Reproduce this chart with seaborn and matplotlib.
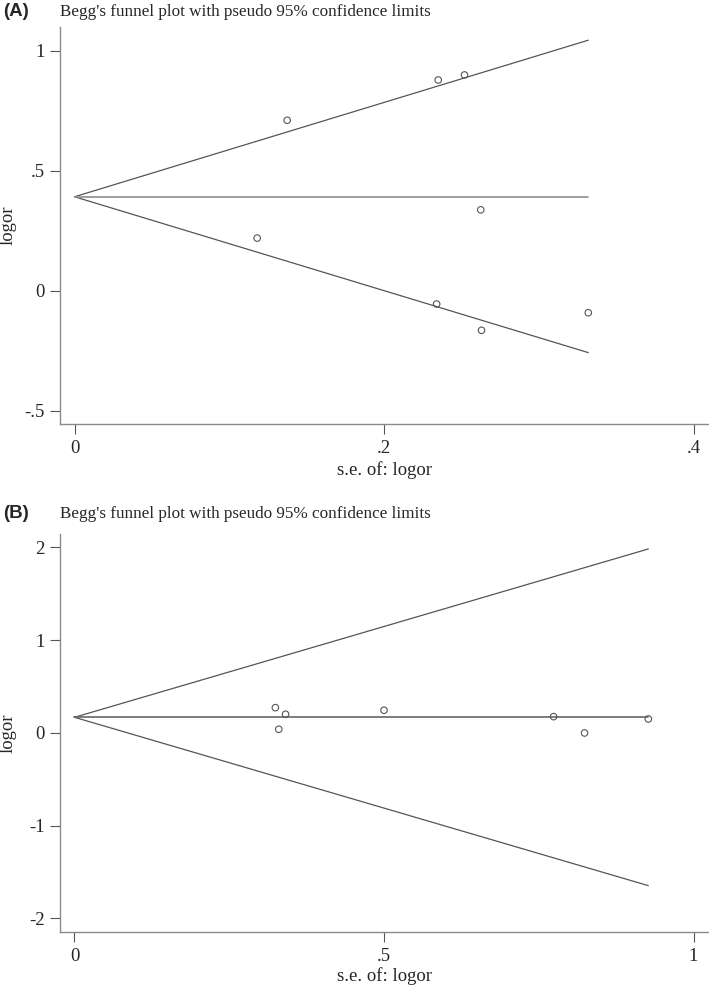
import matplotlib
matplotlib.use("Agg")
import matplotlib.pyplot as plt
import seaborn as sns
import pandas as pd

sns.set_style("ticks")
plt.rcParams["font.family"] = ["Liberation Serif", "DejaVu Serif"]

# Panel A: study estimates (s.e. of logor, logor)
se_a = [0.1374, 0.235, 0.252, 0.2625, 0.118, 0.234, 0.263, 0.332]
logor_a = [0.711, 0.879, 0.900, 0.3375, 0.2196, -0.0554, -0.165, -0.0916]
# pooled estimate and pseudo 95% limits, read at s.e. = 0 and at the largest s.e.
limit_se_a = [0.0, 0.332]
pooled_a = [0.392, 0.392]
upper_a = [0.392, 1.045]
lower_a = [0.392, -0.258]

# Panel B
se_b = [0.3245, 0.341, 0.330, 0.500, 0.774, 0.824, 0.927]
logor_b = [0.273, 0.2016, 0.040, 0.245, 0.176, 0.0, 0.151]
limit_se_b = [0.0, 0.927]
pooled_b = [0.169, 0.169]
upper_b = [0.169, 1.984]
lower_b = [0.169, -1.646]

title = "Begg's funnel plot with pseudo 95% confidence limits"

fig = plt.figure(figsize=(7.09, 9.86), dpi=100)
ax_a = fig.add_axes([60 / 709, 1 - 424.3 / 986, 1 - 60 / 709, (424.3 - 27) / 986])
ax_b = fig.add_axes([60 / 709, 1 - 932.3 / 986, 1 - 60 / 709, (932.3 - 534.3) / 986])


def draw_panel(ax, se, logor, lim_se, pooled, upper, lower, pooled_color):
    lines = pd.DataFrame({"se": lim_se, "pooled": pooled, "upper": upper, "lower": lower})
    sns.lineplot(data=lines, x="se", y="upper", ax=ax, color="#555555", lw=0.9)
    sns.lineplot(data=lines, x="se", y="lower", ax=ax, color="#555555", lw=0.9)
    sns.lineplot(data=lines, x="se", y="pooled", ax=ax, color=pooled_color, lw=1.2)
    pts = pd.DataFrame({"se": se, "logor": logor})
    sns.scatterplot(data=pts, x="se", y="logor", ax=ax, marker="o", s=22,
                    facecolor="none", edgecolor="#555555", linewidth=0.8, zorder=3)
    sns.despine(ax=ax)
    for side in ["left", "bottom"]:
        ax.spines[side].set_color("#8a8a8a")
        ax.spines[side].set_linewidth(1.0)
    ax.tick_params(axis="both", direction="out", length=7, width=0.8,
                   color="#555555", labelsize=13.5, pad=4)
    ax.set_xlabel("s.e. of: logor", fontsize=13.5, va="center")
    ax.set_ylabel("logor", fontsize=13.5, va="center")
    ax.yaxis.set_label_coords(-0.080, 0.5)


def stata_fmt(v):
    s = f"{v:g}"
    return s.replace("0.", ".") if abs(v) < 1 and v != 0 else s


draw_panel(ax_a, se_a, logor_a, limit_se_a, pooled_a, upper_a, lower_a, "#8f8f8f")
ax_a.set_xlim(-0.0094, 0.410)
ax_a.set_ylim(-0.557, 1.100)
ax_a.set_xticks([0, 0.2, 0.4])
ax_a.set_yticks([-0.5, 0, 0.5, 1])
ax_a.xaxis.set_label_coords(0.5, -0.115)

draw_panel(ax_b, se_b, logor_b, limit_se_b, pooled_b, upper_b, lower_b, "#666666")
ax_b.set_xlim(-0.0234, 1.025)
ax_b.set_ylim(-2.149, 2.142)
ax_b.set_xticks([0, 0.5, 1])
ax_b.set_yticks([-2, -1, 0, 1, 2])
ax_b.xaxis.set_label_coords(0.5, -0.110)

for ax in (ax_a, ax_b):
    ax.set_xticklabels([stata_fmt(t) for t in ax.get_xticks()])
    ax.set_yticklabels([stata_fmt(t) for t in ax.get_yticks()])

fig.text(3 / 709, 1 - 12 / 986, "(A)", family="Liberation Sans", weight="bold",
         fontsize=13.5, va="center", ha="left")
fig.text(60 / 709, 1 - 12 / 986, title, fontsize=12.3, va="center", ha="left")
fig.text(3 / 709, 1 - 514 / 986, "(B)", family="Liberation Sans", weight="bold",
         fontsize=13.5, va="center", ha="left")
fig.text(60 / 709, 1 - 514 / 986, title, fontsize=12.3, va="center", ha="left")

fig.savefig("out.png", dpi=100)
